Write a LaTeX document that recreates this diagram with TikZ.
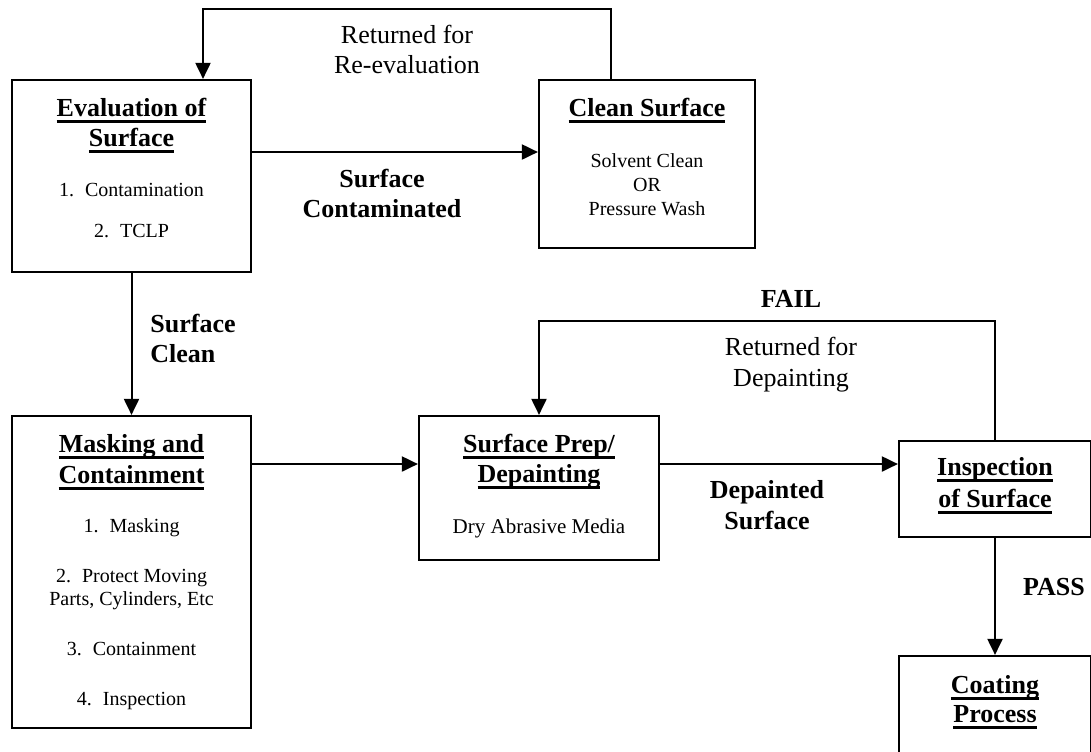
\documentclass[tikz,border=0pt]{standalone}
\usepackage{fontspec}
\setmainfont{Liberation Serif}
\usetikzlibrary{arrows.meta}

% heading underline: a thick rule just below the baseline
\newsavebox\ulbox
\newcommand\ulhead[1]{\sbox\ulbox{#1}\rlap{\rule[-3.3pt]{\wd\ulbox}{1.3pt}}\usebox\ulbox}

\tikzset{
  stepbox/.style={draw, line width=1.1pt, inner sep=0pt},
  flow/.style={line width=1pt, -{Triangle[length=8pt,width=7.5pt]}},
  head/.style={font=\fontsize{13}{15}\selectfont\bfseries, anchor=base, inner sep=0pt},
  item/.style={font=\fontsize{10}{12}\selectfont, anchor=base, inner sep=0pt},
  lab/.style={font=\fontsize{13}{15}\selectfont, anchor=base, inner sep=0pt},
  blab/.style={font=\fontsize{13}{15}\selectfont\bfseries, anchor=base, inner sep=0pt},
}

\begin{document}
\begin{tikzpicture}[x=0.5pt, y=-0.5pt]
\useasboundingbox (0,0) rectangle (1091,751);

% process boxes
\node[stepbox, minimum width=119.5pt, minimum height=96pt] (eval)  at (131.5,176) {};
\node[stepbox, minimum width=108pt,   minimum height=84pt] (clean) at (647,164) {};
\node[stepbox, minimum width=119.5pt, minimum height=156pt] (mask) at (131.5,572) {};
\node[stepbox, minimum width=120pt,   minimum height=72pt] (prep)  at (539,488) {};
\node[stepbox, minimum width=96pt,    minimum height=48pt] (insp)  at (995,489) {};
\node[stepbox, minimum width=96pt,    minimum height=72pt] (coat)  at (995,728) {};

% box texts
\node[head] (evalA) at (131.5,116) {\ulhead{Evaluation of}};
\node[head] (evalB) at (131.5,146) {\ulhead{Surface}};
\node[item] (evalC) at (131.5,196) {1.\hspace{0.55em}Contamination};
\node[item] (evalD) at (131.5,237) {2.\hspace{0.55em}TCLP};

\node[head] (cleanA) at (647,116) {\ulhead{Clean Surface}};
\node[item] (cleanB) at (647,167) {Solvent Clean};
\node[item] (cleanC) at (647,191) {OR};
\node[item] (cleanD) at (647,215) {Pressure Wash};

\node[head] (maskA) at (131.5,452) {\ulhead{Masking and}};
\node[head] (maskB) at (131.5,483) {\ulhead{Containment}};
\node[item] (maskC) at (131.5,532) {1.\hspace{0.55em}Masking};
\node[item] (maskD) at (131.5,582) {2.\hspace{0.55em}Protect Moving};
\node[item] (maskE) at (131.5,605) {Parts, Cylinders, Etc};
\node[item] (maskF) at (131.5,655) {3.\hspace{0.55em}Containment};
\node[item] (maskG) at (131.5,705) {4.\hspace{0.55em}Inspection};

\node[head] (prepA) at (539,452) {\ulhead{Surface Prep/}};
\node[head] (prepB) at (539,482) {\ulhead{Depainting}};
\node[item, font=\fontsize{10.5}{12}\selectfont] (prepC) at (539,533) {Dry Abrasive Media};

\node[head] (inspA) at (995,475) {\ulhead{Inspection}};
\node[head] (inspB) at (995,507) {\ulhead{of Surface}};

\node[head] (coatA) at (995,693) {\ulhead{Coating}};
\node[head] (coatB) at (995,722) {\ulhead{Process}};

% connector labels
\node[lab]  (retA) at (407,43)  {Returned for};
\node[lab]  (retB) at (407,73)  {Re-evaluation};
\node[blab] (conA) at (382,187) {Surface};
\node[blab] (conB) at (382,217) {Contaminated};
\node[blab, anchor=base west] (clnA) at (150,332) {Surface};
\node[blab, anchor=base west] (clnB) at (150,362) {Clean};
\node[blab] (fail) at (791,307) {FAIL};
\node[lab]  (depA) at (791,355) {Returned for};
\node[lab]  (depB) at (791,386) {Depainting};
\node[blab] (dpdA) at (767,498) {Depainted};
\node[blab] (dpdB) at (767,529) {Surface};
\node[blab] (pass) at (1054,595) {PASS};

% routing points
\coordinate (loopR) at (611,8.5);
\coordinate (loopL) at (203,8.5);
\coordinate (rowA) at (0,152);
\coordinate (rowB) at (0,464);
\coordinate (failY) at (0,321);

% connectors
\draw[flow] (clean.north -| loopR) |- (loopL) -- (eval.north -| loopL);
\draw[flow] (eval.east |- rowA) -- (clean.west |- rowA);
\draw[flow] (eval.south) -- (mask.north);
\draw[flow] (mask.east |- rowB) -- (prep.west |- rowB);
\draw[flow] (prep.east |- rowB) -- (insp.west |- rowB);
\draw[flow] (insp.north) |- (prep.north |- failY) -- (prep.north);
\draw[flow] (insp.south) -- (coat.north);
\end{tikzpicture}
\end{document}
